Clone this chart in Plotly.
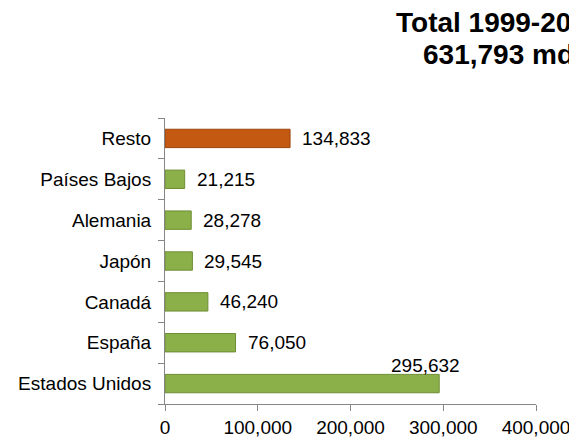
import plotly.graph_objects as go

categories = ["Estados Unidos", "España", "Canadá", "Japón", "Alemania", "Países Bajos", "Resto"]
values = [295632, 76050, 46240, 29545, 28278, 21215, 134833]
colors = ["#8cb049", "#8cb049", "#8cb049", "#8cb049", "#8cb049", "#8cb049", "#c45a12"]
line_colors = ["#6e8d33", "#6e8d33", "#6e8d33", "#6e8d33", "#6e8d33", "#6e8d33", "#9a440b"]
x_ticks = [0, 100000, 200000, 300000, 400000]
x_tick_labels = ["0", "100,000", "200,000", "300,000", "400,000"]
title_lines = ["Total 1999-2009", "631,793 mdd"]

FONT = "Liberation Sans, Arial"
W, H = 569, 441
L, R, T, B = 165, 33, 118, 37
pw, ph = W - L - R, H - T - B

fig = go.Figure()
fig.add_trace(go.Bar(
    y=categories, x=values, orientation="h",
    marker=dict(color=colors, line=dict(color=line_colors, width=1)),
    width=0.45,
    hoverinfo="x+y",
))

annotations = []
for c, v in zip(categories, values):
    label = f"{v:,}"
    if c == "Estados Unidos":
        annotations.append(dict(x=v, y=c, xref="x", yref="y", text=label, showarrow=False,
                                xanchor="center", yanchor="middle", xshift=-14, yshift=18,
                                font=dict(family=FONT, size=19, color="#000")))
    else:
        annotations.append(dict(x=v, y=c, xref="x", yref="y", text=label, showarrow=False,
                                xanchor="left", yanchor="middle", xshift=10,
                                font=dict(family=FONT, size=19, color="#000")))

# title lines, positioned in pixels and converted to paper coordinates
for txt, px, py in [(title_lines[0], 499, 22), (title_lines[1], 507, 54)]:
    annotations.append(dict(x=(px - L) / pw, y=(H - B - py) / ph, xref="paper", yref="paper",
                            text="<b>" + txt + "</b>", showarrow=False,
                            xanchor="center", yanchor="middle",
                            font=dict(family=FONT, size=28, color="#000")))

fig.update_layout(
    width=W, height=H,
    margin=dict(l=L, r=R, t=T, b=B, pad=0, autoexpand=False),
    paper_bgcolor="white", plot_bgcolor="white",
    showlegend=False,
    font=dict(family=FONT, size=19, color="#000"),
    annotations=annotations,
    xaxis=dict(range=[0, 400000], tickvals=x_ticks, ticktext=x_tick_labels,
               showgrid=False, zeroline=False, showline=True, linecolor="#868686", linewidth=1,
               ticks="outside", ticklen=6, tickcolor="#868686", automargin=False,
               ticklabeloverflow="allow",
               tickfont=dict(family=FONT, size=19, color="#000"), fixedrange=True),
    yaxis=dict(categoryorder="array", categoryarray=categories,
               showgrid=False, zeroline=False, showline=True, linecolor="#868686", linewidth=1,
               ticks="outside", ticklen=6, tickcolor="#868686", tickson="boundaries",
               automargin=False, ticklabelstandoff=9,
               tickfont=dict(family=FONT, size=19, color="#000"), fixedrange=True),
)

fig.write_html("out.html", config={"displayModeBar": False},
               post_script="document.body.style.margin='0px';document.body.style.overflow='hidden';")
